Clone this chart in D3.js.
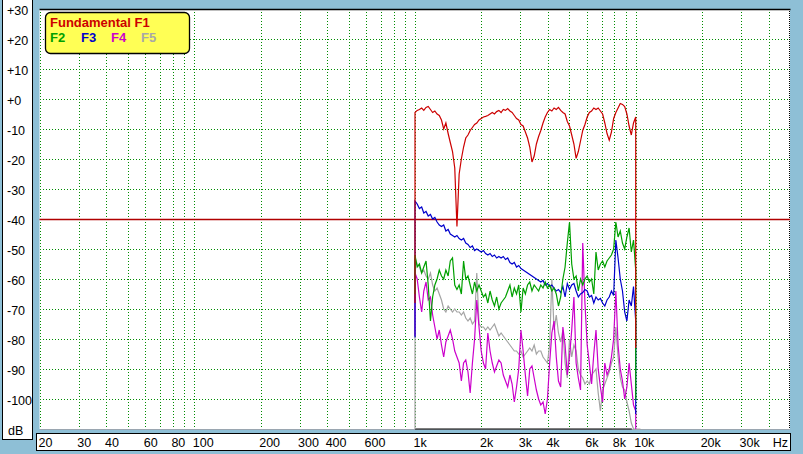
<!DOCTYPE html>
<html><head><meta charset="utf-8">
<script src="https://cdn.jsdelivr.net/npm/d3@7/dist/d3.min.js"></script>
<style>
body{margin:0;background:#8EBFD6;overflow:hidden}
svg{display:block;font-family:"Liberation Sans",Arial,sans-serif}
</style>
</head><body>
<svg id="chart" width="803" height="454"></svg>
<script>
// ---------------- DATA ----------------
const freqs = [1000,1023,1047,1072,1096,1122,1148,1175,1202,1230,
1259,1288,1318,1349,1380,1413,1445,1479,1514,1549,
1585,1622,1660,1698,1738,1778,1820,1862,1905,1950,
1995,2042,2089,2138,2188,2239,2291,2344,2399,2455,
2512,2570,2630,2692,2754,2818,2884,2951,3020,3090,
3162,3236,3311,3388,3467,3548,3631,3715,3802,3890,
3981,4074,4169,4266,4365,4467,4571,4677,4786,4898,
5012,5129,5248,5370,5495,5623,5754,5888,6026,6166,
6310,6457,6607,6761,6918,7079,7244,7413,7586,7762,
7943,8128,8318,8511,8710,8913,9120,9333,9550,9772,10000];

const f1 = [-4.5,-3.8,-3.5,-3.0,-3.8,-2.8,-2.5,-3.5,-4.5,-4.0,
-5.0,-5.5,-7.0,-10.0,-8.0,-11.5,-14.5,-17.5,-23,-42.5,
-25,-20,-16,-13,-12,-10.5,-9.5,-8.5,-8,-7,
-6.5,-6,-5.8,-5.5,-5,-4.5,-5,-4.2,-3.8,-4.5,
-3.5,-3.8,-3.2,-4,-4.5,-5.5,-6.5,-7,-8.5,-9,
-11,-13,-16,-21,-19,-15,-12.5,-10.5,-8,-6,
-4.5,-3.5,-4,-3,-3.5,-2.8,-3.8,-4.5,-5,-7.5,
-9,-12,-15,-19.8,-17.5,-14,-10.5,-8.5,-6,-4.5,
-4,-3,-3.5,-3,-4,-5,-8,-11.5,-13.7,-11,
-6.5,-4.5,-3,-1.5,-1.8,-2.5,-5,-9,-12,-8,-6];

const f2 = [-52,-56,-55,-58,-56,-54,-62,-74,-66,-62,
-60,-57,-59,-60,-57,-59,-54,-53,-62,-63.5,
-62,-65,-54,-60,-59,-62,-65,-61,-64,-62,
-64,-66,-65,-68,-64,-67,-69,-66,-70,-68,
-67,-66,-64,-62,-66,-63,-65,-62,-71,-63,
-65,-62,-61,-64,-62,-63,-64,-62,-63,-61,
-63,-62,-64,-63,-65,-69,-66,-60,-56,-48,
-41,-55,-60,-59,-64,-60,-62,-60,-59,-61,
-60,-65,-51,-57,-55,-54,-56,-54,-53,-52,
-50,-41,-46,-44,-48,-50,-46,-43,-51,-47,-57];

const f3 = [-34,-35,-36.5,-36,-38,-37.5,-39,-38.5,-40,-39.5,
-41,-42,-42.5,-42,-44,-43.5,-45,-45.5,-46,-45.5,
-46.5,-47,-46.5,-48,-48.5,-49.5,-49,-50.5,-50,-50.5,
-51,-50.5,-51.5,-52,-51.5,-52.5,-52,-53,-52.5,-53,
-52.5,-53.5,-53,-54.5,-55,-54.5,-56,-55.5,-56.5,-57,
-57.5,-58,-58.5,-59,-59.5,-60,-60.5,-61,-60.5,-62,
-61.5,-62.5,-62,-63,-64,-63.5,-64.5,-62.5,-66,-61.5,
-63.5,-62,-61.5,-64,-66,-65,-64.5,-63.5,-64,-66,
-65.5,-68,-66,-67,-66.5,-68,-69,-67,-66,-64,
-65.5,-47,-53,-60,-64,-71,-74,-67,-69,-62.5,-74];

const f4 = [-58,-60,-66,-71,-64,-61,-67,-66,-72,-76,
-80,-77,-82,-86,-81,-79,-77,-80,-84,-86,
-88,-94,-88,-87,-91,-98,-88,-80,-67,-76,
-84,-88,-90,-78,-84,-88,-91,-89,-87,-88,
-92,-94,-96,-92,-95,-101,-96,-90,-77,-84,
-92,-99,-90,-89,-93,-97,-100,-102,-101,-105,
-100,-88,-78,-74,-86,-94,-96,-76,-82,-92,
-86,-77,-66,-88,-93,-97,-48,-68,-82,-88,
-95,-85,-77,-90,-96,-101,-88,-92,-90,-86,
-80,-64,-82,-90,-94,-100,-96,-88,-95,-102,-104];

const f5 = [-53,-55,-56,-58,-57,-59,-60,-58,-62,-64,
-63,-65,-67,-70,-71,-69,-70,-71,-70,-71,
-71,-72,-71,-73,-74,-73,-75,-74,-58,-75,
-76,-76,-77,-76,-77,-76,-75,-77,-79,-78,
-79,-80,-81,-82,-83,-84,-84,-85,-84,-86,
-85,-84,-83,-84,-82,-85,-84,-84,-86,-87,
-88,-82,-60,-77,-72,-78,-81,-77,-88,-93,
-80,-86,-82,-84,-90,-92,-93,-95,-94,-95,
-92,-91,-90,-98,-104,-97,-95,-93,-91,-88,
-86,-76,-86,-93,-96,-97,-101,-104,-108,-115,-115];

// series meta (draw order: bottom -> top)
const seriesNames  = ["F5","F4","F3","F2","F1"];
const seriesValues = [f5, f4, f3, f2, f1];
const seriesColors = ["#A4A4A4","#CC00CC","#0000CC","#00A000","#CC0000"];
const startLevels  = [-115, -79, -79.5, -65, -68];   // level the trace rises from at 1 kHz
const endLevels    = [-115, -115, -105, -100, -83];  // level the trace falls to at 10 kHz
const tailFreq = 10500;                              // F5 continues along the floor
const floorSpan = [1000, 9600];                      // black floor trace
const floorLevel = -120;
const thresholdLevel = -40;

const xTickValues = [20,30,40,60,80,100,200,300,400,600,1000,2000,3000,4000,6000,8000,10000,20000,30000];
const xTickLabels = ["20","30","40","60","80","100","200","300","400","600","1k","2k","3k","4k","6k","8k","10k","20k","30k"];
const xGridValues = [20,30,40,50,60,70,80,90,100,200,300,400,500,600,700,800,900,
                     1000,2000,3000,4000,5000,6000,7000,8000,9000,10000,20000,30000,40000];
const yTickValues = [30,20,10,0,-10,-20,-30,-40,-50,-60,-70,-80,-90,-100];
const yTickLabels = ["+30","+20","+10","+0","-10","-20","-30","-40","-50","-60","-70","-80","-90","-100"];
const legendRow1 = [{t:"Fundamental F1", c:"#CC0000"}];
const legendRow2 = [{t:"F2",c:"#00A000"},{t:"F3",c:"#0000CC"},{t:"F4",c:"#CC00CC"},{t:"F5",c:"#A8A8A8"}];

// ---------------- LAYOUT ----------------
const svg = d3.select("#chart");
const L = 39.5, R = 790, T = 9, B = 429;
const x = d3.scaleLog().domain([20, 50000]).range([40, 790]);
const y = d3.scaleLinear().domain([-110, 30]).range([B, T]).clamp(true);
const px = v => Math.round(v) + 0.5;

// left label box
svg.append("rect").attr("x",2.5).attr("y",-1).attr("width",30).attr("height",440.5)
  .attr("fill","#fff").attr("stroke","#000");
// bottom label box
svg.append("rect").attr("x",36.5).attr("y",433.5).attr("width",754).attr("height",17)
  .attr("fill","#fff").attr("stroke","#000");

// plot area
svg.append("rect").attr("x",L).attr("y",T).attr("width",R-L).attr("height",B-T).attr("fill","#fff");

const grid = svg.append("g").attr("shape-rendering","crispEdges");
grid.selectAll("line.v").data(xGridValues).join("line")
  .attr("x1",d=>px(x(d))).attr("x2",d=>px(x(d))).attr("y1",T).attr("y2",B)
  .attr("stroke","#008C00").attr("stroke-dasharray","1,2");
grid.selectAll("line.h").data(yTickValues.filter(v=>v<30)).join("line")
  .attr("class","h")
  .attr("x1",L).attr("x2",R).attr("y1",d=>px(y(d))).attr("y2",d=>px(y(d)))
  .attr("stroke","#008C00").attr("stroke-dasharray","1,2");

// frame
svg.append("line").attr("x1",L).attr("x2",R+0.5).attr("y1",9.5).attr("y2",9.5).attr("stroke","#000").attr("stroke-width",1.5);
svg.append("line").attr("x1",R-0.5).attr("x2",R-0.5).attr("y1",T).attr("y2",B).attr("stroke","#000").attr("stroke-dasharray","1,1").attr("shape-rendering","crispEdges");
svg.append("line").attr("x1",L).attr("x2",R).attr("y1",B+0.5).attr("y2",B+0.5).attr("stroke","#9AA6B0").attr("shape-rendering","crispEdges");

// threshold line
svg.append("line").attr("x1",L).attr("x2",R).attr("y1",px(y(thresholdLevel))).attr("y2",px(y(thresholdLevel)))
  .attr("stroke","#B00000").attr("stroke-width",1.3);

// floor trace
const line = d3.line().x(d=>x(d[0])).y(d=>y(d[1]));
svg.append("path").datum(floorSpan.map(f=>[f,floorLevel])).attr("d", line)
  .attr("fill","none").attr("stroke","#000").attr("stroke-width",1.2);

// series
seriesNames.forEach((name,i)=>{
  const pts = [[freqs[0], startLevels[i]]].concat(freqs.map((f,j)=>[f, seriesValues[i][j]]));
  pts.push([freqs[freqs.length-1], endLevels[i]]);
  if (name === "F5") pts.push([tailFreq, endLevels[i]]);
  svg.append("path").datum(pts).attr("d", line)
    .attr("fill","none").attr("stroke",seriesColors[i]).attr("stroke-width",1.2)
    .attr("stroke-linejoin","miter");
});

// y labels
svg.append("g").selectAll("text").data(yTickValues).join("text")
  .attr("x",7).attr("y",d=>y(d)+1.5).attr("dy","0.35em")
  .attr("font-size","12.5px").attr("fill","#000")
  .text((d,i)=>yTickLabels[i]);
svg.append("text").attr("x",8).attr("y",y(-110)+2).attr("dy","0.35em")
  .attr("font-size","12.5px").text("dB");

// x labels
svg.append("g").selectAll("text").data(xTickValues).join("text")
  .attr("x",d=>x(d)-1.5).attr("y",443).attr("dy","0.35em")
  .attr("font-size","12.5px").attr("fill","#000")
  .text((d,i)=>xTickLabels[i]);
svg.append("text").attr("x",788).attr("y",443).attr("dy","0.35em")
  .attr("text-anchor","end").attr("font-size","12.5px").text("Hz");

// legend
svg.append("rect").attr("x",45.5).attr("y",12.5).attr("width",144).attr("height",41).attr("rx",5)
  .attr("fill","#FFFF55").attr("stroke","#000").attr("stroke-width",1.3);
svg.append("text").attr("x",50).attr("y",27).attr("font-size","13px").attr("font-weight","bold")
  .attr("fill",legendRow1[0].c).text(legendRow1[0].t);
const lx = [50,81,111,141];
svg.append("g").selectAll("text").data(legendRow2).join("text")
  .attr("x",(d,i)=>lx[i]).attr("y",41.5).attr("font-size","13px").attr("font-weight","bold")
  .attr("fill",d=>d.c).text(d=>d.t);
</script>
</body></html>
